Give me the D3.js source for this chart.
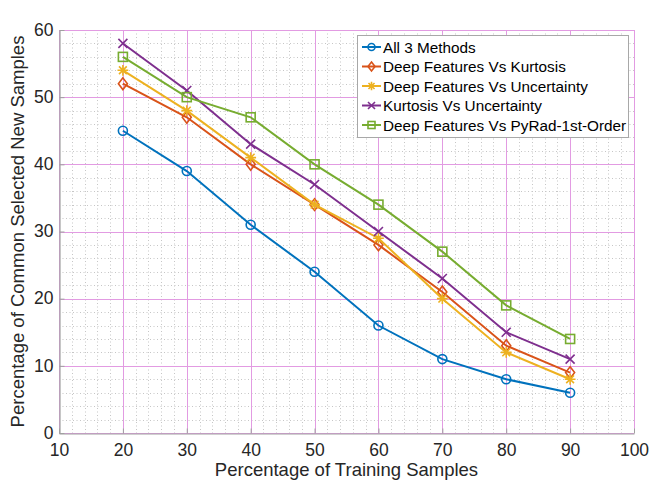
<!DOCTYPE html>
<html>
<head>
<meta charset="utf-8">
<script src="https://cdn.jsdelivr.net/npm/d3@7"></script>
<style>
  html, body { margin: 0; padding: 0; background: #fff; }
  svg { display: block; font-family: "Liberation Sans", Arial, Helvetica, sans-serif; }
</style>
</head>
<body>
<svg id="chart" width="663" height="484"></svg>
<script>
// Training-sample percentages on the x axis
const trainingPct = [20, 30, 40, 50, 60, 70, 80, 90];

// Percentage of common selected new samples per method pair
const all3Methods        = [45, 39, 31, 24, 16, 11, 8, 6];
const dfVsKurtosis       = [52, 47, 40, 34, 28, 21, 13, 9];
const dfVsUncertainty    = [54, 48, 41, 34, 29, 20, 12, 8];
const kurtosisVsUncert   = [58, 51, 43, 37, 30, 23, 15, 11];
const dfVsPyRad          = [56, 50, 47, 40, 34, 27, 19, 14];

const seriesNames = [
  "All 3 Methods",
  "Deep Features Vs Kurtosis",
  "Deep Features Vs Uncertainty",
  "Kurtosis Vs Uncertainty",
  "Deep Features Vs PyRad-1st-Order"
];

const xTicks = [10, 20, 30, 40, 50, 60, 70, 80, 90, 100];
const yTicks = [0, 10, 20, 30, 40, 50, 60];

const series = [
  { name: seriesNames[0], values: all3Methods,      color: "#0072BD", marker: "circle" },
  { name: seriesNames[1], values: dfVsKurtosis,     color: "#D95319", marker: "diamond" },
  { name: seriesNames[2], values: dfVsUncertainty,  color: "#EDB120", marker: "asterisk" },
  { name: seriesNames[3], values: kurtosisVsUncert, color: "#7E2F8E", marker: "cross" },
  { name: seriesNames[4], values: dfVsPyRad,        color: "#77AC30", marker: "square" }
];

const svg = d3.select("#chart");
const plotL = 59, plotR = 634, plotT = 30, plotB = 433;

const x = d3.scaleLinear().domain([10, 100]).range([plotL, plotR]);
const y = d3.scaleLinear().domain([0, 60]).range([plotB, plotT]);
// snap 1px grid lines to the pixel grid
const px = v => Math.round(v) + 0.5;

// Minor grid (dotted)
const minorX = d3.range(10, 100.01, 2).filter(v => v % 10 !== 0);
const minorY = d3.range(0, 60.01, 2).filter(v => v % 10 !== 0);
const grid = svg.append("g");
grid.selectAll(".mx").data(minorX).join("line")
  .attr("x1", d => px(x(d))).attr("x2", d => px(x(d))).attr("y1", plotT).attr("y2", plotB)
  .attr("stroke", "#c6c6c6").attr("stroke-width", 1).attr("stroke-dasharray", "1,2.5");
grid.selectAll(".my").data(minorY).join("line")
  .attr("x1", plotL).attr("x2", plotR).attr("y1", d => px(y(d))).attr("y2", d => px(y(d)))
  .attr("stroke", "#c6c6c6").attr("stroke-width", 1).attr("stroke-dasharray", "1,2.5");

// Major grid (magenta)
grid.selectAll(".gx").data(xTicks).join("line")
  .attr("x1", d => px(x(d))).attr("x2", d => px(x(d))).attr("y1", plotT).attr("y2", plotB)
  .attr("stroke", "#e29be2").attr("stroke-width", 1);
grid.selectAll(".gy").data(yTicks).join("line")
  .attr("x1", plotL).attr("x2", plotR).attr("y1", d => px(y(d))).attr("y2", d => px(y(d)))
  .attr("stroke", "#e29be2").attr("stroke-width", 1);

// Axes
const xAxis = svg.append("g").attr("transform", `translate(0,${px(plotB)})`)
  .call(d3.axisBottom(x).tickValues(xTicks).tickSizeInner(-5).tickSizeOuter(0).tickPadding(10));
const yAxis = svg.append("g").attr("transform", `translate(${px(plotL)},0)`)
  .call(d3.axisLeft(y).tickValues(yTicks).tickSizeInner(-5).tickSizeOuter(0).tickPadding(8));
[xAxis, yAxis].forEach(a => {
  a.select(".domain").attr("stroke", "#a0a0a0").attr("stroke-width", 1.2);
  a.selectAll(".tick line").attr("stroke", "#a0a0a0");
  a.selectAll(".tick text").attr("font-size", 17.5).attr("fill", "#262626")
    .attr("font-family", "Liberation Sans, Arial, sans-serif");
});
xAxis.selectAll(".tick text").attr("dy", "0.71em");
yAxis.selectAll(".tick text").attr("dy", "0.3em").attr("dx", "2");

// Axis titles
svg.append("text").attr("x", (plotL + plotR) / 2).attr("y", 476)
  .attr("text-anchor", "middle").attr("font-size", 18.5).attr("fill", "#262626")
  .text("Percentage of Training Samples");
svg.append("text").attr("transform", `translate(24,${(plotT + plotB) / 2}) rotate(-90)`)
  .attr("text-anchor", "middle").attr("font-size", 18.5).attr("fill", "#262626")
  .text("Percentage of Common Selected New Samples");

// Marker drawing
function drawMarker(g, type, color, size) {
  const s = size;
  if (type === "circle") {
    g.append("circle").attr("r", s).attr("fill", "none").attr("stroke", color).attr("stroke-width", 1.6);
  } else if (type === "diamond") {
    g.append("path").attr("d", `M0,${-s * 1.3}L${s},0L0,${s * 1.3}L${-s},0Z`)
      .attr("fill", "none").attr("stroke", color).attr("stroke-width", 1.6);
  } else if (type === "square") {
    g.append("rect").attr("x", -s).attr("y", -s).attr("width", 2 * s).attr("height", 2 * s)
      .attr("fill", "none").attr("stroke", color).attr("stroke-width", 1.6);
  } else if (type === "cross") {
    g.append("path").attr("d", `M${-s},${-s}L${s},${s}M${-s},${s}L${s},${-s}`)
      .attr("stroke", color).attr("stroke-width", 1.6);
  } else if (type === "asterisk") {
    const r = s * 1.2, d = r * 0.72;
    g.append("path").attr("d", `M${-r},0L${r},0M0,${-r}L0,${r}M${-d},${-d}L${d},${d}M${-d},${d}L${d},${-d}`)
      .attr("stroke", color).attr("stroke-width", 1.6);
  }
}

// Lines and markers
const line = d3.line().x((d, i) => x(trainingPct[i])).y(d => y(d));
series.forEach(s => {
  svg.append("path").datum(s.values).attr("d", line)
    .attr("fill", "none").attr("stroke", s.color).attr("stroke-width", 2);
  s.values.forEach((v, i) => {
    const g = svg.append("g").attr("transform", `translate(${x(trainingPct[i])},${y(v)})`);
    drawMarker(g, s.marker, s.color, 4.5);
  });
});

// Legend
const lg = svg.append("g");
lg.append("rect").attr("x", 357.5).attr("y", 35.5).attr("width", 271).attr("height", 102)
  .attr("fill", "#fff").attr("stroke", "#a8a8a8").attr("stroke-width", 1);
series.forEach((s, i) => {
  const yy = 47 + i * 19.5;
  lg.append("line").attr("x1", 362).attr("x2", 381).attr("y1", yy).attr("y2", yy)
    .attr("stroke", s.color).attr("stroke-width", 2);
  const g = lg.append("g").attr("transform", `translate(371.5,${yy})`);
  drawMarker(g, s.marker, s.color, 3.5);
  lg.append("text").attr("x", 383).attr("y", yy).attr("dy", "0.36em")
    .attr("font-size", 15.3).attr("fill", "#000").text(s.name);
});
</script>
</body>
</html>
